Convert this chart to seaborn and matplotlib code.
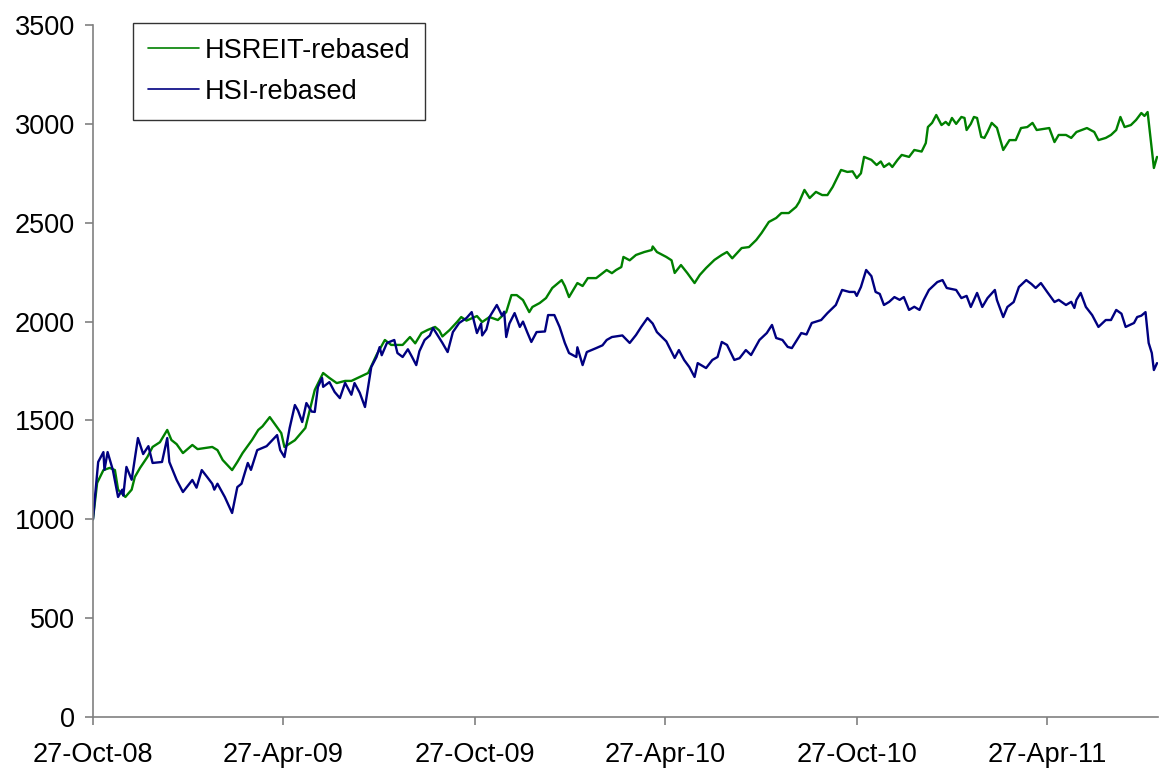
import pandas as pd
import numpy as np
import matplotlib
matplotlib.use("Agg")
import matplotlib.pyplot as plt
import matplotlib.dates as mdates
import seaborn as sns

# Rebased index levels (27-Oct-08 = 1000)
start = pd.Timestamp("2008-10-27")

hsi_days = [0, 5, 10, 11, 14, 19, 24, 28, 29, 32, 37, 43, 48, 53, 57, 66, 71, 73, 80, 86,
            95, 99, 104, 109, 114, 116, 119, 126, 133, 138, 142, 148, 151, 157, 166, 176, 179, 183, 188, 193,
            196, 200, 204, 209, 212, 215, 219, 220, 226, 231, 236, 241, 247, 250, 255, 260, 263, 266, 271, 274,
            276, 281, 288, 291, 296, 301, 305, 309, 312, 317, 322, 325, 334, 339, 344, 350, 357, 362, 367, 371,
            372, 376, 379, 386, 391, 393, 395, 398, 403, 408, 411, 415, 419, 424, 432, 435, 441, 446, 451, 455,
            462, 463, 468, 472, 481, 487, 491, 496, 506, 513, 519, 524, 530, 535, 539, 548, 556, 560, 565, 570,
            575, 578, 586, 592, 597, 601, 606, 613, 618, 624, 629, 637, 644, 649, 653, 659, 664, 668, 677, 682,
            687, 696, 702, 710, 716, 723, 728, 730, 734, 739, 744, 745, 748, 752, 756, 761, 766, 771, 775, 780,
            785, 790, 794, 799, 807, 812, 816, 825, 830, 835, 839, 845, 850, 855, 862, 864, 870, 874, 880, 885,
            892, 897, 901, 906, 912, 919, 923, 930, 935, 938, 940, 944, 949, 955, 961, 968, 973, 978, 983, 987,
            995, 998, 1002, 1006, 1009, 1012, 1014, 1017]
hsi_vals = [1000, 1290, 1340, 1250, 1340, 1250, 1113, 1150, 1120, 1265, 1200, 1411, 1330, 1370, 1285, 1290, 1411, 1290, 1199, 1138,
            1199, 1160, 1249, 1215, 1180, 1150, 1180, 1113, 1032, 1163, 1180, 1285, 1250, 1350, 1370, 1426, 1350, 1315, 1462, 1578,
            1550, 1492, 1588, 1545, 1543, 1669, 1715, 1670, 1694, 1644, 1613, 1690, 1630, 1689, 1640, 1568, 1669, 1770, 1821, 1871,
            1830, 1892, 1907, 1841, 1821, 1860, 1821, 1780, 1850, 1907, 1930, 1968, 1892, 1846, 1947, 1993, 2018, 2048, 1942, 1990,
            1930, 1960, 2023, 2084, 2030, 2050, 1922, 1990, 2043, 1973, 2000, 1947, 1897, 1947, 1950, 2033, 2033, 1973, 1892, 1841,
            1821, 1870, 1780, 1846, 1866, 1880, 1907, 1922, 1930, 1892, 1932, 1973, 2018, 1990, 1947, 1900, 1816, 1856, 1806, 1770,
            1720, 1790, 1765, 1806, 1821, 1897, 1882, 1806, 1815, 1856, 1831, 1907, 1942, 1983, 1917, 1907, 1872, 1866, 1942, 1935,
            1993, 2008, 2043, 2084, 2160, 2150, 2150, 2130, 2175, 2261, 2230, 2210, 2150, 2140, 2084, 2100, 2124, 2110, 2124, 2059,
            2075, 2059, 2109, 2160, 2200, 2210, 2170, 2160, 2119, 2130, 2074, 2145, 2074, 2119, 2160, 2109, 2023, 2074, 2099, 2175,
            2210, 2190, 2170, 2195, 2150, 2099, 2110, 2084, 2100, 2069, 2110, 2145, 2074, 2033, 1973, 2008, 2008, 2059, 2040, 1973,
            1993, 2023, 2030, 2048, 1892, 1841, 1755, 1790]

reit_days = [0, 4, 10, 16, 21, 24, 31, 37, 40, 45, 52, 57, 64, 71, 75, 80, 86, 95, 100, 114,
             119, 124, 133, 138, 143, 152, 158, 162, 169, 174, 180, 183, 193, 203, 212, 220, 226, 233, 241, 247,
             255, 263, 271, 279, 285, 296, 303, 308, 314, 320, 327, 331, 334, 341, 348, 352, 357, 367, 372, 379,
             387, 395, 400, 405, 411, 417, 420, 427, 433, 439, 448, 451, 455, 463, 468, 473, 481, 491, 496, 500,
             505, 507, 513, 519, 527, 534, 535, 539, 548, 553, 556, 562, 568, 575, 580, 586, 594, 601, 606, 611,
             620, 627, 634, 639, 646, 653, 658, 665, 672, 675, 680, 685, 691, 697, 702, 707, 715, 721, 726, 730,
             734, 737, 744, 749, 753, 756, 761, 764, 769, 773, 780, 785, 792, 796, 798, 802, 806, 811, 815, 818,
             821, 825, 830, 833, 835, 839, 842, 845, 849, 852, 855, 859, 864, 870, 876, 882, 887, 893, 898, 902,
             909, 914, 919, 923, 930, 935, 940, 950, 957, 961, 968, 973, 978, 982, 986, 992, 997, 1002, 1005, 1008,
             1011, 1014, 1017]
reit_vals = [1000, 1184, 1249, 1260, 1249, 1150, 1113, 1150, 1214, 1260, 1315, 1366, 1390, 1452, 1401, 1380, 1335, 1376, 1355, 1366,
             1350, 1300, 1249, 1290, 1335, 1401, 1452, 1470, 1517, 1480, 1436, 1366, 1400, 1462, 1654, 1740, 1715, 1689, 1700, 1700,
             1720, 1740, 1831, 1907, 1882, 1882, 1922, 1890, 1942, 1958, 1973, 1955, 1925, 1958, 1998, 2023, 2005, 2028, 1998, 2023,
             2008, 2048, 2134, 2134, 2109, 2048, 2074, 2094, 2119, 2170, 2210, 2180, 2124, 2195, 2180, 2220, 2220, 2261, 2245, 2261,
             2276, 2327, 2310, 2337, 2352, 2362, 2380, 2352, 2327, 2310, 2246, 2286, 2246, 2195, 2236, 2271, 2312, 2337, 2352, 2320,
             2372, 2377, 2413, 2448, 2504, 2524, 2549, 2549, 2580, 2605, 2666, 2625, 2656, 2640, 2640, 2681, 2767, 2757, 2760, 2726,
             2750, 2833, 2818, 2792, 2810, 2782, 2800, 2782, 2818, 2843, 2833, 2868, 2860, 2903, 2984, 3005, 3045, 2994, 3010, 2994,
             3030, 3000, 3035, 3030, 2969, 3000, 3035, 3030, 2934, 2929, 2959, 3005, 2980, 2868, 2918, 2918, 2979, 2984, 3005, 2969,
             2975, 2979, 2908, 2944, 2944, 2929, 2959, 2979, 2959, 2918, 2929, 2944, 2969, 3035, 2984, 2994, 3020, 3055, 3040, 3060,
             2918, 2777, 2833]

series_names = ["HSREIT-rebased", "HSI-rebased"]
series_colors = ["#008000", "#000080"]
tick_dates = ["2008-10-27", "2009-04-27", "2009-10-27", "2010-04-27", "2010-10-27", "2011-04-27"]
y_ticks = [0, 500, 1000, 1500, 2000, 2500, 3000, 3500]

df = pd.concat([
    pd.DataFrame({"date": start + pd.to_timedelta(reit_days, unit="D"),
                  "value": reit_vals, "series": series_names[0]}),
    pd.DataFrame({"date": start + pd.to_timedelta(hsi_days, unit="D"),
                  "value": hsi_vals, "series": series_names[1]}),
])

sns.set_style("ticks")
plt.rcParams["font.family"] = ["Liberation Sans", "DejaVu Sans"]
plt.rcParams["text.color"] = "black"

fig = plt.figure(figsize=(11.59, 7.70), dpi=100)
ax = fig.add_axes([0.0802, 0.0688, 0.919, 0.8987])

sns.lineplot(data=df, x="date", y="value", hue="series", hue_order=series_names,
             palette=series_colors, estimator=None, linewidth=1.7, ax=ax)

ax.set_xlim(start, start + pd.Timedelta(days=1018))
ax.set_ylim(0, 3500)
ax.set_yticks(y_ticks)
ax.set_xticks(pd.to_datetime(tick_dates))
ax.xaxis.set_major_formatter(mdates.DateFormatter("%d-%b-%y"))
ax.set_xlabel("")
ax.set_ylabel("")

for side in ["top", "right"]:
    ax.spines[side].set_visible(False)
for side in ["left", "bottom"]:
    ax.spines[side].set_color("#808080")
    ax.spines[side].set_linewidth(1.2)
ax.tick_params(axis="both", direction="out", length=6, width=1.2, color="#808080",
               labelsize=19.5, labelcolor="black")
ax.tick_params(axis="y", pad=7)
ax.tick_params(axis="x", pad=12)

leg = ax.legend(loc="upper left", bbox_to_anchor=(0.0376, 1.003), borderaxespad=0,
                fontsize=19.5, frameon=True, fancybox=False, handlelength=1.9,
                handletextpad=0.2, borderpad=0.55, labelspacing=0.55)
leg.get_frame().set_edgecolor("black")
leg.get_frame().set_linewidth(1.0)
for line in leg.get_lines():
    line.set_linewidth(1.2)
for text in leg.get_texts():
    text.set_color("black")

fig.savefig("out.png", dpi=100)
